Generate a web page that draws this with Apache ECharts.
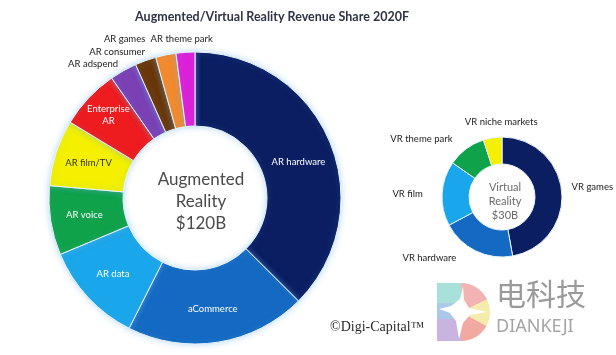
<!DOCTYPE html>
<html><head><meta charset="utf-8">
<script src="https://cdn.jsdelivr.net/npm/echarts@6/dist/echarts.min.js"></script>
<style>html,body{margin:0;padding:0;background:#fff}#c{width:616px;height:355px}</style>
</head><body><div id="c"></div>
<script>
const arCategories = ['AR hardware','aCommerce','AR data','AR voice','AR film/TV','Enterprise\nAR','AR adspend','AR consumer','AR games','AR theme park'];
const arValues = [45, 24, 13.5, 9.2, 8.8, 8, 3.6, 2.8, 2.7, 2.5];
const vrCategories = ['VR games','VR hardware','VR film','VR theme park','VR niche markets'];
const vrValues = [14.1, 6, 5.2, 3.1, 1.5];

const arColors = ['#0b1e62','#1469c2','#1aa6ea','#0fa24a','#f4f000','#ee1b1f','#7a40b4','#6a3608','#f48a2c','#dd1fd9'];
const arLabelColors = ['#fff','#fff','#fff','#fff','#333','#fff','#222','#222','#222','#222'];
const arOffsets = [[0,7],[0,0],[0,0],[0,0],[0,0],[-5,-6],[-47,-36],[-40,-41],[-48,-49],[-6,-47]];
const vrColors = ['#0b1e62','#1469c2','#1aa6ea','#0fa24a','#f4f000'];
const vrOffsets = [[41,-6],[-51,16],[-45,0],[-51,-18],[7,-26]];

const font = 'Lato, "Noto Sans", sans-serif';
const chart = echarts.init(document.getElementById('c'), null, {renderer:'canvas'});
chart.setOption({
  backgroundColor:'#fff',
  animation:false,
  title:[
    {text:'Augmented/Virtual Reality Revenue Share 2020F', left:267, top:5, textAlign:'center',
     textStyle:{fontFamily:font, fontSize:12.5, fontWeight:'bold', color:'#2e3347'}},
    {text:'Augmented\nReality\n$120B', left:196, top:164, textAlign:'center',
     textStyle:{fontFamily:font, fontSize:17, fontWeight:'normal', color:'#4a4a4a', lineHeight:22}},
    {text:'Virtual\nReality\n$30B', left:500, top:175, textAlign:'center',
     textStyle:{fontFamily:font, fontSize:11, fontWeight:'normal', color:'#6a6a6a', lineHeight:14}},
    {text:'©Digi-Capital™', left:325, top:315,
     textStyle:{fontFamily:'"Liberation Serif", serif', fontSize:14, fontWeight:'normal', color:'#2a2a2a'}}
  ],
  series:[
    {type:'pie', center:[195,198], radius:[72,146], startAngle:90, clockwise:true,
     avoidLabelOverlap:false,
     itemStyle:{borderColor:'#e8f5fc', borderWidth:1, shadowBlur:6, shadowColor:'rgba(110,180,235,0.45)'},
     label:{show:true, position:'inside', fontFamily:font, fontSize:9.5, lineHeight:12, formatter:'{b}'},
     labelLine:{show:false},
     labelLayout:function(p){const o=arOffsets[p.dataIndex];return {dx:o[0],dy:o[1]};},
     data:arCategories.map((n,i)=>({name:n, value:arValues[i], itemStyle:{color:arColors[i]}, label:{color:arLabelColors[i]}}))
    },
    {type:'pie', center:[502,197], radius:[33,60], startAngle:90, clockwise:true,
     avoidLabelOverlap:false,
     itemStyle:{borderColor:'#e8f5fc', borderWidth:1},
     label:{show:true, position:'inside', fontFamily:font, fontSize:9.5, color:'#222', formatter:'{b}'},
     labelLine:{show:false},
     labelLayout:function(p){const o=vrOffsets[p.dataIndex];return {dx:o[0],dy:o[1]};},
     data:vrCategories.map((n,i)=>({name:n, value:vrValues[i], itemStyle:{color:vrColors[i]}}))
    }
  ],
  graphic:[
    {type:'group', x:437, y:283, children:[
      {type:'rect', shape:{x:0,y:0,width:24,height:20}, style:{fill:'#a8e0da'}},
      {type:'rect', shape:{x:0,y:20,width:24,height:16}, style:{fill:'#a9c8ea'}},
      {type:'rect', shape:{x:0,y:36,width:24,height:22}, style:{fill:'#c9b3e1'}},
      {type:'sector', shape:{cx:24,cy:29,r:29,r0:0,startAngle:-Math.PI/2,endAngle:-0.45}, style:{fill:'#f3b3b3'}},
      {type:'sector', shape:{cx:24,cy:29,r:29,r0:0,startAngle:-0.45,endAngle:0.5}, style:{fill:'#f4ecab'}},
      {type:'sector', shape:{cx:24,cy:29,r:29,r0:0,startAngle:0.5,endAngle:Math.PI/2}, style:{fill:'#f2a9a2'}},
      {type:'polygon', shape:{points:[[26,3],[27,17],[32,25],[50,29],[33,32],[26,40],[22,56],[19,38],[13,30],[2,26],[14,23],[23,16]]}, style:{fill:'#fff'}}
    ]},
    {type:'text', x:496, y:279, style:{text:'电科技', font:'30px "Noto Sans CJK SC"', fill:'#9a9a9a'}},
    {type:'text', x:496, y:318, style:{text:'DIANKEJI', font:'18px "Noto Sans"', fill:'#a5a5a5'}}
  ]
});
</script></body></html>
